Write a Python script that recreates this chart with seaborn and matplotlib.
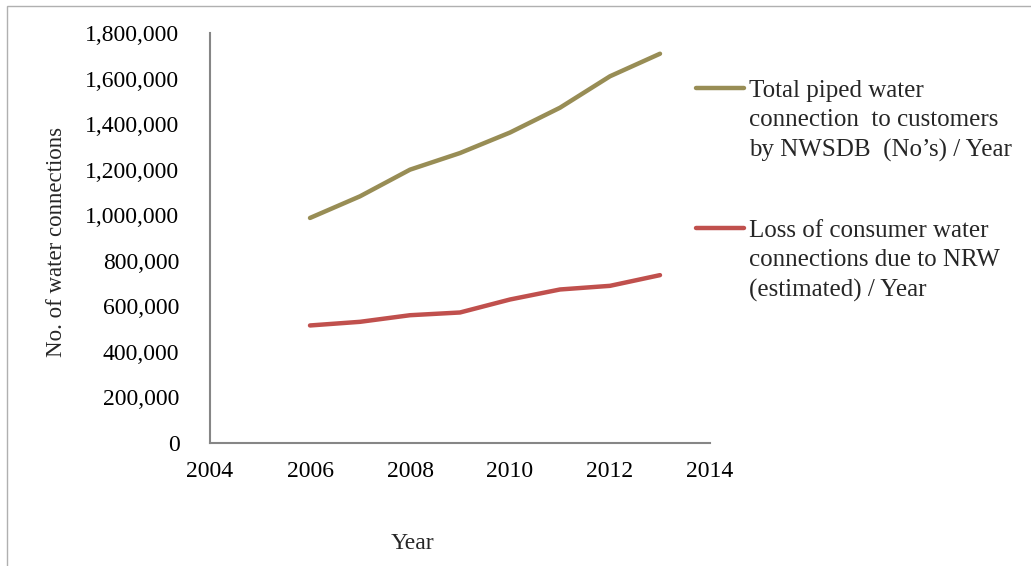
import matplotlib
matplotlib.use("Agg")
import matplotlib.pyplot as plt
import matplotlib.ticker as mticker
from matplotlib.lines import Line2D
from matplotlib.patches import Rectangle
import seaborn as sns
import pandas as pd

years = [2006, 2007, 2008, 2009, 2010, 2011, 2012, 2013]
total_connections = [988000, 1083000, 1200000, 1273000, 1363000, 1472000, 1610000, 1709000]
loss_connections = [516000, 532000, 561000, 573000, 630000, 674000, 690000, 737000]
series_names = [
    "Total piped water\nconnection  to customers\nby NWSDB  (No\u2019s) / Year",
    "Loss of consumer water\nconnections due to NRW\n(estimated) / Year",
]
colors = ["#988D55", "#C0504D"]

df = pd.DataFrame({
    "Year": years * 2,
    "Value": total_connections + loss_connections,
    "Series": [series_names[0]] * len(years) + [series_names[1]] * len(years),
})

sns.set_style("white")
plt.rcParams["font.family"] = ["Liberation Serif", "DejaVu Serif"]

FS = 17
fig = plt.figure(figsize=(10.31, 5.66), dpi=100)
ax = fig.add_axes([210 / 1031, 1 - 443 / 566, 500 / 1031, 410 / 566])

sns.lineplot(data=df, x="Year", y="Value", hue="Series", palette=colors,
             linewidth=3.2, legend=False, ax=ax, solid_capstyle="round")

ax.set_xlim(2004, 2014)
ax.set_ylim(0, 1800000)
ax.set_xticks([2004, 2006, 2008, 2010, 2012, 2014])
ax.set_yticks(range(0, 1800001, 200000))
ax.yaxis.set_major_formatter(mticker.FuncFormatter(lambda v, p: f"{int(v):,}"))
ax.tick_params(axis="both", length=0, labelsize=FS, colors="#000000")
ax.tick_params(axis="y", pad=22)
ax.tick_params(axis="x", pad=13)
for s in ["top", "right"]:
    ax.spines[s].set_visible(False)
for s in ["left", "bottom"]:
    ax.spines[s].set_color("#868686")
    ax.spines[s].set_linewidth(1.5)

ax.set_ylabel("No. of water connections", fontsize=16.5)
ax.yaxis.set_label_coords(-0.285, 0.49)
ax.set_xlabel("Year", fontsize=FS)
ax.xaxis.set_label_coords(0.405, -0.22)

# Legend (manual, first-line aligned like Excel)
leg_y = [88, 228]
for name, col, y in zip(series_names, colors, leg_y):
    yf = 1 - y / 566
    fig.add_artist(Line2D([696 / 1031, 744 / 1031], [yf, yf], color=col,
                          linewidth=3.2, solid_capstyle="round",
                          transform=fig.transFigure))
    fig.text(749 / 1031, 1 - (y - 8) / 566, name, fontsize=18, va="top",
             ha="left", linespacing=1.42)

# chart-area border
fig.add_artist(Rectangle((7 / 1031, -0.1), 1.2, 1 - 6 / 566 + 0.1,
                         transform=fig.transFigure, fill=False,
                         edgecolor="#B0B0B0", linewidth=1.0))

fig.savefig("out.png", dpi=100)
